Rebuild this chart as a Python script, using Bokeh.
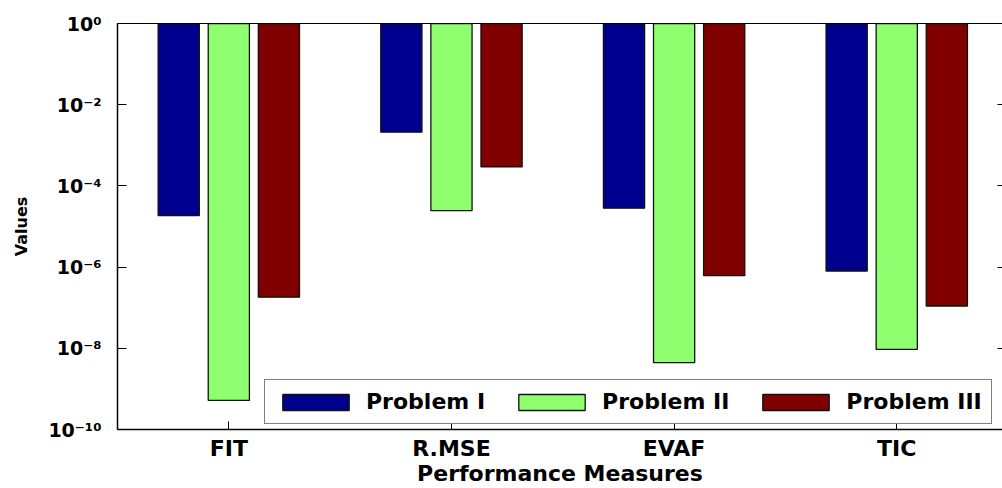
import numpy as np
from bokeh.plotting import figure
from bokeh.models import (ColumnDataSource, FixedTicker, LogAxis, LinearAxis, Legend,
                          LegendItem, Range1d, CustomJSTickFormatter)
from bokeh.embed import file_html
from bokeh.resources import INLINE

# ---- data ----
categories = ["FIT", "R.MSE", "EVAF", "TIC"]
series_names = ["Problem I", "Problem II", "Problem III"]
problem_1 = [1.86e-5, 2.1e-3, 2.82e-5, 8.0e-7]
problem_2 = [5.2e-10, 2.46e-5, 4.46e-9, 9.4e-9]
problem_3 = [1.82e-7, 2.94e-4, 6.16e-7, 1.1e-7]
y_tick_exponents = [0, -2, -4, -6, -8, -10]
series_colors = ["#00008F", "#8FFF70", "#800000"]

FONT = "DejaVu Sans"

cat_pos = np.arange(1, len(categories) + 1)
offsets = [-0.225, 0.0, 0.225]
bar_w = 0.185

p = figure(width=1002, height=488, y_axis_type="log",
           x_range=Range1d(0.5, 4.475), y_range=Range1d(1e-10, 1.0),
           output_backend="svg", toolbar_location=None,
           min_border_left=117, min_border_right=0, min_border_top=23,
           min_border_bottom=55, background_fill_color="white",
           border_fill_color="white")
p.xgrid.visible = False
p.ygrid.visible = False
p.outline_line_color = None

renderers = []
for vals, off, col in zip([problem_1, problem_2, problem_3], offsets, series_colors):
    src = ColumnDataSource(dict(x=cat_pos + off, bottom=vals, top=[1.0] * len(vals)))
    r = p.vbar(x="x", bottom="bottom", top="top", width=bar_w, source=src,
               fill_color=col, line_color="#111111", line_width=1.3)
    renderers.append(r)

# x axis
xa = p.xaxis[0]
xa.ticker = FixedTicker(ticks=list(cat_pos), minor_ticks=[])
xa.major_label_overrides = {int(i): c for i, c in zip(cat_pos, categories)}
xa.major_tick_in = 8
xa.major_tick_out = 0
xa.minor_tick_line_color = None
xa.axis_line_color = "black"
xa.axis_line_width = 1.5
xa.major_tick_line_color = "black"
xa.major_label_text_font = FONT
xa.major_label_text_font_style = "bold"
xa.major_label_text_font_size = "22px"
xa.major_label_text_color = "black"
xa.major_label_standoff = 6
xa.axis_label = "Performance Measures"
xa.axis_label_text_font = FONT
xa.axis_label_text_font_style = "bold"
xa.axis_label_text_font_size = "22px"
xa.axis_label_text_color = "black"
xa.axis_label_standoff = -3

# top border line (no ticks)
ta = LinearAxis(ticker=FixedTicker(ticks=[], minor_ticks=[]),
                formatter=CustomJSTickFormatter(code="return ''"),
                major_tick_line_color=None, minor_tick_line_color=None,
                axis_line_color="black", axis_line_width=1.2,
                major_label_standoff=0)
p.add_layout(ta, "above")

# y axis: 10 with superscript exponent
sup_js = """
const sup = {'0':'\\u2070','1':'\\u00b9','2':'\\u00b2','3':'\\u00b3','4':'\\u2074',
             '5':'\\u2075','6':'\\u2076','7':'\\u2077','8':'\\u2078','9':'\\u2079',
             '-':'\\u207b'};
const e = Math.round(Math.log10(tick));
return '10' + String(e).split('').map(c => sup[c]).join('');
"""
yticks = [10.0 ** e for e in y_tick_exponents]
ya = p.yaxis[0]
ya.ticker = FixedTicker(ticks=yticks, minor_ticks=[])
ya.formatter = CustomJSTickFormatter(code=sup_js)
ya.major_tick_in = 9
ya.major_tick_out = 0
ya.minor_tick_line_color = None
ya.axis_line_color = "black"
ya.axis_line_width = 1.5
ya.major_label_standoff = 16
ya.major_label_text_font = FONT
ya.major_label_text_font_style = "bold"
ya.major_label_text_font_size = "19px"
ya.major_label_text_color = "black"
ya.axis_label = "Values"
ya.axis_label_text_font = FONT
ya.axis_label_text_font_style = "bold"
ya.axis_label_text_font_size = "16px"
ya.axis_label_text_color = "black"
ya.axis_label_standoff = 14

# right axis (ticks only)
ra = LogAxis(ticker=FixedTicker(ticks=yticks, minor_ticks=[]),
             formatter=CustomJSTickFormatter(code="return ''"),
             major_tick_in=5, major_tick_out=0, minor_tick_line_color=None,
             axis_line_alpha=0, major_label_standoff=0)
p.add_layout(ra, "right")

legend = Legend(items=[LegendItem(label=n, renderers=[r]) for n, r in zip(series_names, renderers)],
                orientation="horizontal", location=(147, 5),
                glyph_width=83, glyph_height=20, label_standoff=9, spacing=25,
                padding=9, margin=0,
                label_text_font=FONT, label_text_font_style="bold",
                label_text_font_size="22px", label_text_color="black",
                border_line_color="black", border_line_width=1.5,
                background_fill_color="white", background_fill_alpha=1.0)
p.add_layout(legend)

open("out.html", "w").write(file_html(p, INLINE))
